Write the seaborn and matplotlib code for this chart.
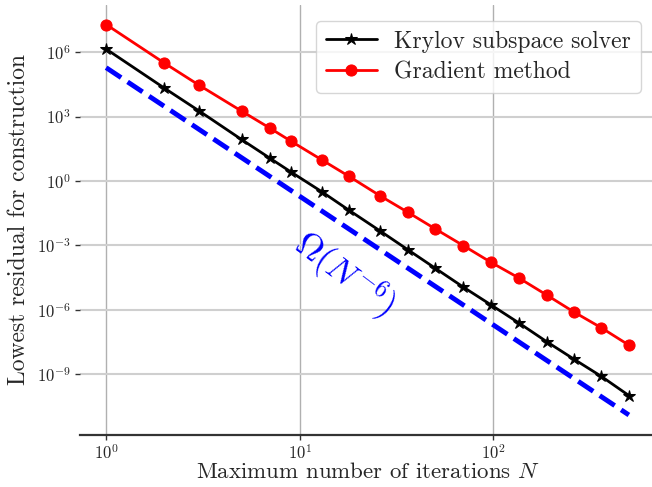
import numpy as np
import pandas as pd
import matplotlib
matplotlib.use("Agg")
import matplotlib.pyplot as plt
import seaborn as sns

# ---- data ----
iterations = [1, 2, 3, 5, 7, 9, 13, 18, 26, 36, 50, 70, 97, 135, 188, 259, 361, 500]
krylov = [1.4e6, 2.1e4, 1.9e3, 8.5e1, 1.15e1, 2.6, 3.1e-1, 4.2e-2, 4.6e-3, 6.3e-4,
          8.5e-5, 1.1e-5, 1.66e-6, 2.4e-7, 3.2e-8, 5.0e-9, 7.6e-10, 9.8e-11]
gradient = [1.95e7, 3.1e5, 3.0e4, 1.8e3, 2.9e2, 7.1e1, 9.5, 1.6, 2.0e-1, 3.5e-2,
            5.8e-3, 9.5e-4, 1.6e-4, 3.0e-5, 4.8e-6, 7.9e-7, 1.4e-7, 2.2e-8]
ref_N = [1, 500]
ref_vals = [1.9e5, 1.9e5 * 500.0 ** -6]

labels = ["Krylov subspace solver", "Gradient method"]

sns.set_theme(style="whitegrid")
plt.rcParams["font.family"] = "serif"
plt.rcParams["font.serif"] = ["cmr10", "DejaVu Serif"]
plt.rcParams["mathtext.fontset"] = "cm"
plt.rcParams["axes.formatter.use_mathtext"] = True

fig = plt.figure(figsize=(6.52, 4.87), dpi=100)
ax = fig.add_axes([80 / 652, 1 - 434.5 / 487, 575 / 652, 429.5 / 487])

df = pd.DataFrame({"N": iterations, "krylov": krylov, "gradient": gradient})

sns.lineplot(data=df, x="N", y="krylov", ax=ax, color="black", lw=2.0,
             marker="*", markersize=9, markeredgecolor="black", label=labels[0])
sns.lineplot(data=df, x="N", y="gradient", ax=ax, color="#ff0000", lw=2.0,
             marker="o", markersize=8, markeredgecolor="#ff0000", label=labels[1])
sns.lineplot(x=ref_N, y=ref_vals, ax=ax, color="#0000ff", lw=3.5,
             linestyle="--", legend=False)

ax.set_xscale("log")
ax.set_yscale("log")

ax.set_yticks([1e-9, 1e-6, 1e-3, 1e0, 1e3, 1e6])
ax.yaxis.set_minor_locator(matplotlib.ticker.NullLocator())
ax.xaxis.set_minor_locator(matplotlib.ticker.NullLocator())

ax.grid(False)
ax.xaxis.grid(True, which="major", color="#b0b0b0", lw=1.0)
ax.yaxis.grid(True, which="major", color="#cfcfcf", lw=1.5)
for s in ["top", "right", "left"]:
    ax.spines[s].set_visible(False)
ax.spines["bottom"].set_color("#333333")
ax.spines["bottom"].set_linewidth(1.6)

ax.tick_params(axis="both", which="major", length=3.5, width=1.0, color="#333333",
               labelsize=12, left=True, bottom=True, pad=3)

ax.set_xlabel(r"Maximum number of iterations $N$", fontsize=16.5, labelpad=0)
ax.set_ylabel("Lowest residual for construction", fontsize=17, labelpad=5)

ax.text(17, 4.6e-5, r"$\Omega(N^{-6})$", color="#0000ff", fontsize=25,
        rotation=-37, ha="center", va="center", rotation_mode="anchor")

leg = ax.legend(loc="upper right", fontsize=17, handlelength=2.15,
                handletextpad=0.75, frameon=True,
                fancybox=True, framealpha=0.8, borderpad=0.4, labelspacing=0.35,
                bbox_to_anchor=(0.9955, 0.99), bbox_transform=ax.transAxes)
leg.get_frame().set_edgecolor("#cccccc")

fig.savefig("out.png", dpi=100)
